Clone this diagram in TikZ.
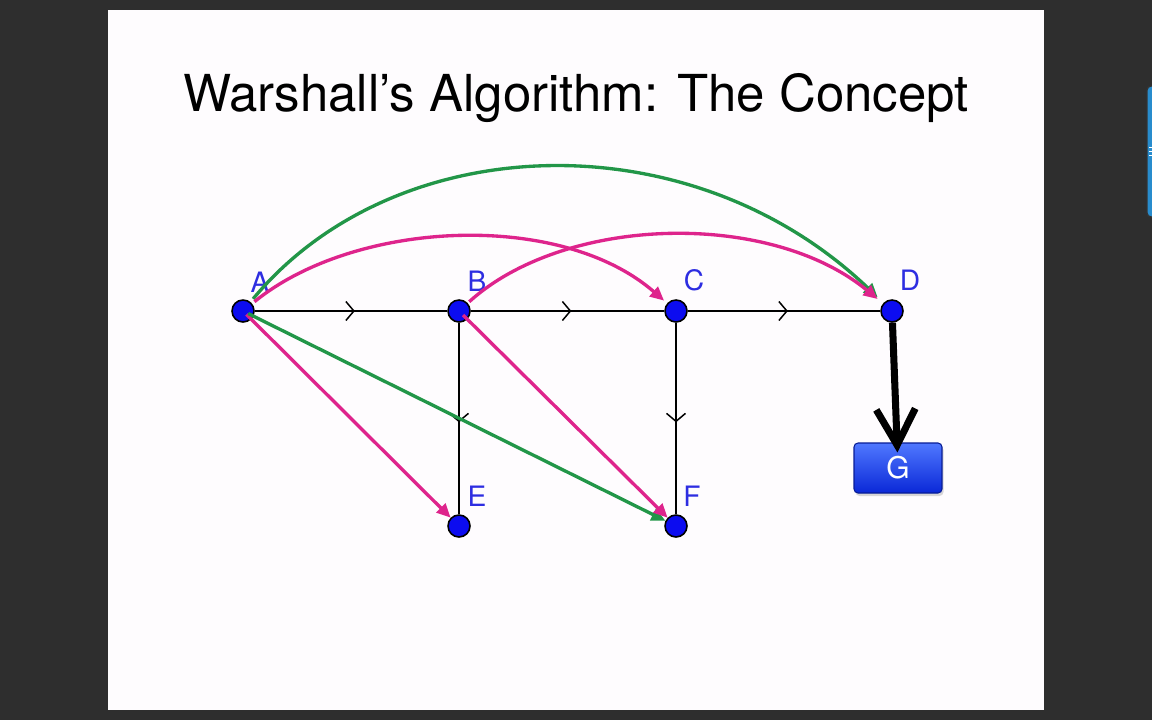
\documentclass[tikz,border=0pt]{standalone}
\usepackage{fontspec}
\setmainfont{TeX Gyre Heros}
\usetikzlibrary{arrows.meta,decorations.markings,shadows}
\definecolor{bgdark}{RGB}{46,46,46}
\definecolor{slide}{RGB}{254,252,254}
\definecolor{nodeblue}{RGB}{12,12,240}
\definecolor{labblue}{RGB}{45,45,225}
\definecolor{mypink}{RGB}{222,36,140}
\definecolor{mygreen}{RGB}{34,150,72}
\definecolor{tabblue}{RGB}{40,140,205}
\definecolor{gtop}{RGB}{80,120,255}
\definecolor{gbot}{RGB}{10,40,215}
\begin{document}
\begin{tikzpicture}[x=0.02cm,y=-0.02cm,
  vtx/.style={circle,draw=black,line width=0.9pt,fill=nodeblue,minimum size=0.44cm,inner sep=0pt},
  lab/.style={text=labblue,font=\fontsize{16}{17}\selectfont,inner sep=0pt},
  blk/.style={draw=black,line width=0.85pt,postaction={decorate},
    decoration={markings,mark=at position 0.52 with {\arrow{Straight Barb[length=0.16cm,width=0.38cm,line width=0.85pt]}}}},
  pinkarr/.style={draw=mypink,line width=1.9pt,-{Triangle[length=0.28cm,width=0.25cm]}},
  greenarr/.style={draw=mygreen,line width=1.9pt,-{Triangle[length=0.28cm,width=0.25cm]}},
  gbox/.style={draw=gbot!70!black,line width=0.6pt,rounded corners=0.08cm,top color=gtop,bottom color=gbot,
    minimum width=1.76cm,minimum height=1.0cm,text=white,font=\fontsize{17}{18}\selectfont,
    drop shadow={shadow xshift=0.03cm,shadow yshift=-0.06cm,opacity=0.3}},
]
\useasboundingbox (0,0) rectangle (1152,720);
\fill[bgdark] (0,0) rectangle (1152,720);
\fill[slide] (108,10) rectangle (1044,710);
\draw[fill=tabblue,draw=black!80,line width=0.8pt,rounded corners=0.08cm] (1147,86) rectangle (1165,217);
\draw[white,line width=0.5pt] (1149,147) -- (1152,147) (1149,151) -- (1152,151) (1149,155) -- (1152,155);

\node[font=\fontsize{29}{33}\selectfont] (title) at (576,98) {Warshall’s Algorithm: The Concept};

\node[vtx] (A) at (243,311) {};
\node[vtx] (B) at (459,311) {};
\node[vtx] (C) at (676,311) {};
\node[vtx] (D) at (892,311) {};
\node[vtx] (E) at (459,526) {};
\node[vtx] (F) at (676,526) {};
\node[gbox] (G) at (898,468) {G};

\node[lab] (lA) at (260,282) {A};
\node[lab] (lB) at (477,281) {B};
\node[lab] (lC) at (694,280) {C};
\node[lab] (lD) at (910,280) {D};
\node[lab] (lE) at (477,496) {E};
\node[lab] (lF) at (692,496) {F};

\draw[blk] (A) -- (B);
\draw[blk] (B) -- (C);
\draw[blk] (C) -- (D);
\draw[blk] (B) -- (E);
\draw[blk] (C) -- (F);

\draw[black,line width=4pt,shorten >=-0.2cm,-{Straight Barb[length=0.72cm,width=0.78cm,line width=4pt]}] (D) -- (G);

\draw[greenarr,shorten <=0.08cm,shorten >=0.16cm] (A) .. controls (395,128) and (690,118) .. (D);
\draw[pinkarr,shorten <=0.06cm,shorten >=0.08cm] (A) .. controls (355,220) and (560,210) .. (C);
\draw[pinkarr,shorten <=0.04cm,shorten >=0.14cm] (B) .. controls (565,215) and (770,210) .. (D);
\draw[pinkarr,shorten <=-0.14cm] (A) -- (E);
\draw[greenarr,shorten <=-0.12cm] (A) -- (F);
\draw[pinkarr,shorten <=-0.12cm] (B) -- (F);
\end{tikzpicture}
\end{document}
